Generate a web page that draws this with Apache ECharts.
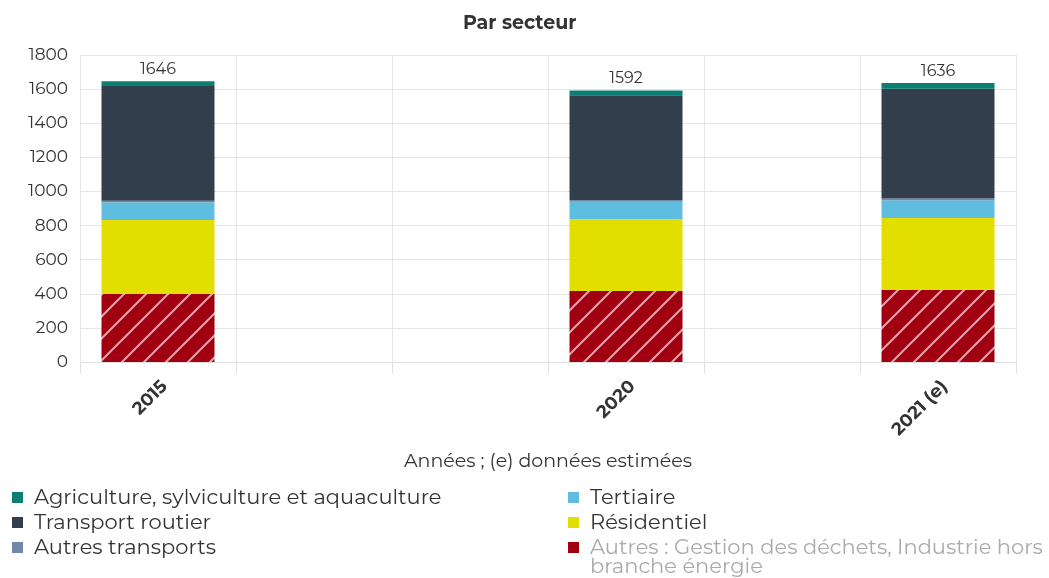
<!DOCTYPE html>
<html><head><meta charset="utf-8">
<script src="https://cdn.jsdelivr.net/npm/echarts@6/dist/echarts.min.js"></script>
<style>html,body{margin:0;padding:0;background:#fff}#c{width:1049px;height:578px}</style>
</head><body><div id="c"></div>
<script>
const categories = ['2015', ' ', '  ', '2020', '   ', '2021 (e)'];
const autres = [400, null, null, 416, null, 424];
const residentiel = [433, null, null, 421, null, 420];
const tertiaire = [103, null, null, 103, null, 104];
const autresTransports = [10, null, null, 10, null, 10];
const transportRoutier = [672, null, null, 614, null, 644];
const agriculture = [28, null, null, 28, null, 34];
const yTicks = [0, 200, 400, 600, 800, 1000, 1200, 1400, 1600, 1800];

const names = {
  agri: 'Agriculture, sylviculture et aquaculture',
  route: 'Transport routier',
  autTr: 'Autres transports',
  tert: 'Tertiaire',
  resi: 'Résidentiel',
  autres: 'Autres : Gestion des déchets, Industrie hors branche énergie'
};
const colors = {agri:'#0b7f72', route:'#333e4c', autTr:'#7189a8', tert:'#5fbde0', resi:'#e2de00', autres:'#a0000f'};

// hatch pattern
const S = 22;
const pc = document.createElement('canvas');
pc.width = S; pc.height = S;
const g = pc.getContext('2d');
g.fillStyle = colors.autres; g.fillRect(0,0,S,S);
g.strokeStyle = 'rgba(255,200,210,0.8)'; g.lineWidth = 2;
g.beginPath();
g.moveTo(-2, S+2); g.lineTo(S+2, -2);
g.moveTo(-2, 2); g.lineTo(2, -2);
g.moveTo(S-2, S+2); g.lineTo(S+2, S-2);
g.stroke();

const totals = categories.map((_, i) => {
  const arr = [autres, residentiel, tertiaire, autresTransports, transportRoutier, agriculture];
  if (autres[i] == null) return null;
  return arr.reduce((s, a) => s + (a[i] || 0), 0);
});

function bar(key, data, extra) {
  return Object.assign({
    name: names[key], type: 'bar', stack: 's', data: data, barWidth: 113,
    itemStyle: {color: colors[key]}, emphasis: {disabled: true}
  }, extra || {});
}

const chart = echarts.init(document.getElementById('c'), null, {renderer: 'canvas'});
const font = 'Montserrat, "Open Sans", sans-serif';
chart.setOption({
  animation: false,
  textStyle: {fontFamily: font},
  title: {text: 'Par secteur', left: 458, top: 9, textStyle: {fontSize: 19, fontWeight: 'bold', color: '#333', fontFamily: font}},
  grid: {left: 80, right: 33, top: 55, bottom: 216},
  xAxis: {
    type: 'category', data: categories,
    name: 'Années ; (e) données estimées', nameLocation: 'middle', nameGap: 90,
    nameTextStyle: {fontSize: 19, color: '#333'},
    axisLine: {lineStyle: {color: '#e0e0e0'}},
    axisTick: {show: true, length: 12, lineStyle: {color: '#e0e0e0'}},
    splitLine: {show: true, lineStyle: {color: '#e6e6e6'}},
    axisLabel: {rotate: 45, fontSize: 18, fontWeight: 'bold', color: '#333', margin: 15, verticalAlign: 'top', interval: 0}
  },
  yAxis: {
    type: 'value', min: 0, max: 1800, interval: 200,
    axisLabel: {fontSize: 17, color: '#333', margin: 12, formatter: v => yTicks.includes(v) ? String(v) : ''},
    splitLine: {lineStyle: {color: '#e6e6e6'}},
    axisLine: {show: false}, axisTick: {show: false}
  },
  legend: [{
    orient: 'vertical', left: 7, top: 482, itemWidth: 11, itemHeight: 11, itemGap: 4,
    icon: 'rect',
    textStyle: {fontSize: 21, color: '#333', lineHeight: 20, padding: [0,0,0,6]},
    data: [names.agri, names.route, names.autTr]
  }, {
    orient: 'vertical', left: 563, top: 482, itemWidth: 11, itemHeight: 11, itemGap: 4,
    icon: 'rect',
    textStyle: {fontSize: 21, color: '#333', lineHeight: 20, padding: [0,0,0,6]},
    formatter: n => n === names.autres ? 'Autres : Gestion des déchets, Industrie hors' : n,
    data: [names.tert, names.resi, {name: names.autres, itemStyle: {color: colors.autres}, textStyle: {color: '#aaaaaa'}}]
  }],
  graphic: [{
    type: 'text', left: 590, top: 556,
    style: {text: 'branche énergie', fontSize: 21, fill: '#aaaaaa', fontFamily: font}
  }],
  series: [
    bar('autres', autres, {itemStyle: {color: {image: pc, repeat: 'repeat'}}}),
    bar('resi', residentiel),
    bar('tert', tertiaire),
    bar('autTr', autresTransports),
    bar('route', transportRoutier),
    bar('agri', agriculture, {label: {show: true, position: 'top', fontSize: 16, color: '#333', distance: 4,
      formatter: p => totals[p.dataIndex] == null ? '' : String(totals[p.dataIndex])}})
  ]
});
</script></body></html>
